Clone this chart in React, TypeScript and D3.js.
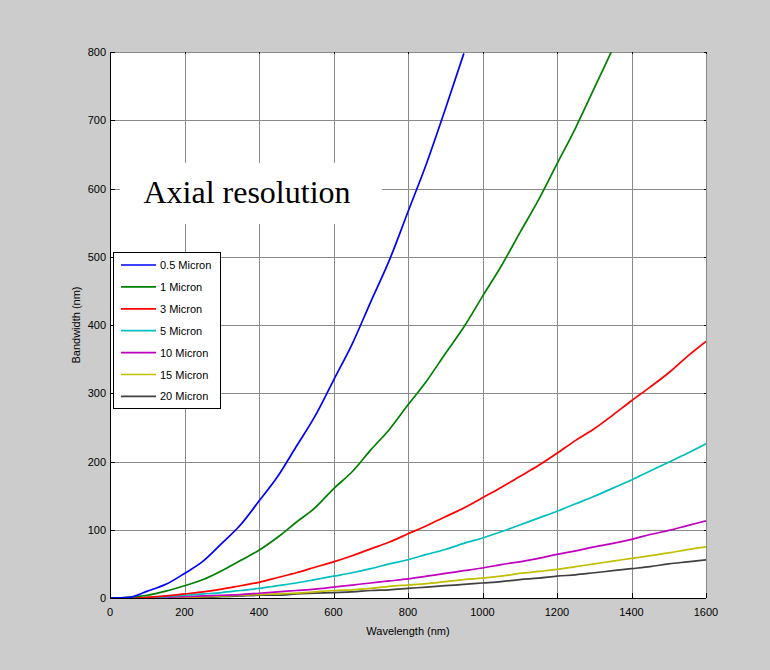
import React from "react";
import * as d3 from "d3";

// Wavelength samples (nm)
const wavelengths = [
  0, 50, 100, 150, 200, 250, 300, 350, 400, 450, 500, 550, 600, 650, 700, 750, 800,
  850, 900, 950, 1000, 1050, 1100, 1150, 1200, 1250, 1300, 1350, 1400, 1450, 1500,
  1550, 1600,
];

// Required bandwidth (nm) for each axial resolution
const bw05 = [0, 1, 10, 20, 36, 54, 80, 107, 142, 178, 222, 266, 319, 372, 434, 495, 566, 637, 716, 798];
const bw1 = [0, 1, 4, 10, 18, 27, 40, 55, 70, 89, 111, 132, 160, 185, 217, 247, 283, 318, 358, 397, 442, 486, 535, 583, 636, 689, 747, 805];
const bw3 = [0, 0, 1, 3, 6, 9, 13, 18, 23, 30, 37, 45, 53, 62, 72, 82, 94, 106, 119, 132, 147, 162, 178, 194, 212, 231, 248, 268, 289, 309, 330, 354, 376];
const bw5 = [0, 0, 1, 2, 4, 6, 8, 11, 14, 18, 22, 27, 32, 37, 43, 50, 56, 64, 71, 80, 88, 97, 107, 117, 127, 138, 149, 161, 173, 186, 199, 212, 226];
const bw10 = [0, 0, 0, 1, 2, 3, 4, 5, 7, 9, 11, 13, 16, 19, 22, 25, 28, 32, 36, 40, 44, 49, 53, 58, 64, 69, 75, 80, 86, 93, 99, 106, 113];
const bw15 = [0, 0, 0, 1, 1, 2, 3, 4, 5, 6, 7, 9, 11, 12, 14, 17, 19, 21, 24, 27, 29, 32, 36, 39, 42, 46, 50, 54, 58, 62, 66, 71, 75];
const bw20 = [0, 0, 0, 0, 1, 1, 2, 3, 4, 4, 6, 7, 8, 9, 11, 12, 14, 16, 18, 20, 22, 24, 27, 29, 32, 34, 37, 40, 43, 46, 50, 53, 56];

const seriesNames = ["0.5 Micron", "1 Micron", "3 Micron", "5 Micron", "10 Micron", "15 Micron", "20 Micron"];
const seriesValues = [bw05, bw1, bw3, bw5, bw10, bw15, bw20];
const seriesColors = ["#0000ff", "#008000", "#ff0000", "#00bfbf", "#bf00bf", "#bfbf00", "#404040"];

const xTicks = [0, 200, 400, 600, 800, 1000, 1200, 1400, 1600];
const yTicks = [0, 100, 200, 300, 400, 500, 600, 700, 800];

const W = 770;
const H = 670;
const left = 110;
const right = 706;
const top = 52;
const bottom = 598;

export default function App() {
  const x = d3.scaleLinear().domain([0, 1600]).range([left, right]);
  const y = d3.scaleLinear().domain([0, 800]).range([bottom, top]);
  const line = d3
    .line<number>()
    .x((_, i) => x(wavelengths[i]))
    .y((d) => y(d))
    .curve(d3.curveMonotoneX);

  const font = "Arial, 'Liberation Sans', Helvetica, sans-serif";
  const tick = 5;

  // Title box area (grid lines are hidden behind it)
  const box = { x0: 120, x1: 382, y0: 163, y1: 224 };
  // Legend box
  const leg = { x0: 113.5, x1: 220.5, y0: 252.5, y1: 408.5 };

  return (
    <svg
      width={W}
      height={H}
      style={{ position: "absolute", left: 0, top: 0, display: "block" }}
      fontFamily={font}
    >
      <defs>
        <clipPath id="plot-clip">
          <rect x={left} y={top} width={right - left} height={bottom - top} />
        </clipPath>
      </defs>
      <rect x={0} y={0} width={W} height={H} fill="#cccccc" />
      <rect x={left} y={top} width={right - left} height={bottom - top} fill="#ffffff" />

      {/* grid */}
      <g stroke="#8a8a8a" strokeWidth={1}>
        {xTicks.slice(1).map((t) => (
          <line key={"gx" + t} x1={Math.round(x(t)) + 0.5} x2={Math.round(x(t)) + 0.5} y1={top} y2={bottom} />
        ))}
        {yTicks.slice(1).map((t) => (
          <line key={"gy" + t} x1={left} x2={right} y1={Math.round(y(t)) + 0.5} y2={Math.round(y(t)) + 0.5} />
        ))}
      </g>

      {/* tick marks on all four sides */}
      <g stroke="#000" strokeWidth={1}>
        {xTicks.map((t) => (
          <g key={"tx" + t}>
            <line x1={Math.round(x(t)) + 0.5} x2={Math.round(x(t)) + 0.5} y1={bottom} y2={bottom - tick} />
            <line x1={Math.round(x(t)) + 0.5} x2={Math.round(x(t)) + 0.5} y1={top} y2={top + 2} />
          </g>
        ))}
        {yTicks.map((t) => (
          <g key={"ty" + t}>
            <line x1={left} x2={left + tick} y1={Math.round(y(t)) + 0.5} y2={Math.round(y(t)) + 0.5} />
            <line x1={right} x2={right - 2} y1={Math.round(y(t)) + 0.5} y2={Math.round(y(t)) + 0.5} />
          </g>
        ))}
      </g>

      {/* title box */}
      <rect x={box.x0} y={box.y0} width={box.x1 - box.x0} height={box.y1 - box.y0} fill="#ffffff" />
      <text
        x={247}
        y={203}
        textAnchor="middle"
        fontFamily="'Liberation Serif', 'Times New Roman', serif"
        fontSize={32}
        fill="#000"
      >
        Axial resolution
      </text>

      {/* curves */}
      <g clipPath="url(#plot-clip)" fill="none" strokeWidth={1.7} strokeLinejoin="round">
        {seriesValues
          .map((vals, i) => ({ vals, i }))
          .reverse()
          .map(({ vals, i }) => (
            <path key={seriesNames[i]} d={line(vals) ?? ""} stroke={seriesColors[i]} />
          ))}
      </g>

      {/* axes lines (left and bottom) */}
      <line x1={left + 0.5} x2={left + 0.5} y1={top} y2={bottom} stroke="#000" strokeWidth={1} />
      <line x1={left} x2={right} y1={bottom + 0.5} y2={bottom + 0.5} stroke="#000" strokeWidth={1} />

      {/* tick labels */}
      <g fontSize={11} fill="#000">
        {xTicks.map((t) => (
          <text key={"lx" + t} x={x(t)} y={616} textAnchor="middle">
            {t}
          </text>
        ))}
        {yTicks.map((t) => (
          <text key={"ly" + t} x={106} y={y(t) + 4} textAnchor="end">
            {t}
          </text>
        ))}
      </g>

      {/* axis titles */}
      <text x={(left + right) / 2} y={635} textAnchor="middle" fontSize={11} fill="#000">
        Wavelength (nm)
      </text>
      <text
        transform={`translate(80, ${(top + bottom) / 2}) rotate(-90)`}
        textAnchor="middle"
        fontSize={11}
        fill="#000"
      >
        Bandwidth (nm)
      </text>

      {/* legend */}
      <rect
        x={leg.x0}
        y={leg.y0}
        width={leg.x1 - leg.x0}
        height={leg.y1 - leg.y0}
        fill="#ffffff"
        stroke="#000"
        strokeWidth={1}
      />
      {seriesNames.map((name, i) => {
        const ly = 265 + i * 21.9;
        return (
          <g key={"leg" + name}>
            <line x1={121} x2={156} y1={ly} y2={ly} stroke={seriesColors[i]} strokeWidth={1.7} />
            <text x={160} y={ly + 4} fontSize={11} fill="#000">
              {name}
            </text>
          </g>
        );
      })}
    </svg>
  );
}
